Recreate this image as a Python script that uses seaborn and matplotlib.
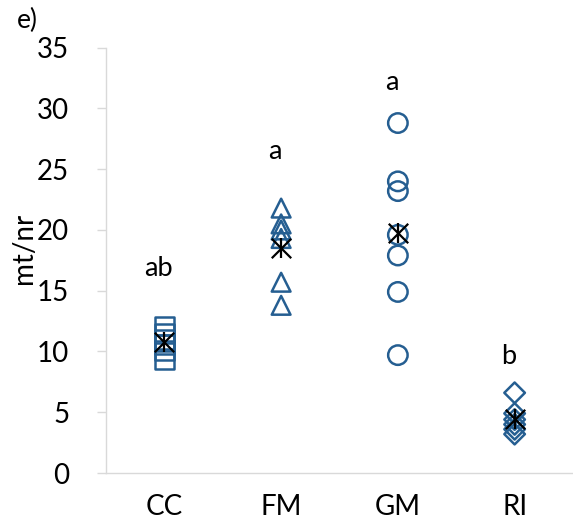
import matplotlib
matplotlib.use("Agg")
import matplotlib.pyplot as plt
import seaborn as sns
import pandas as pd

# Sampled values per site
categories = ["CC", "FM", "GM", "RI"]
cc_values = [12.1, 11.5, 11.0, 10.6, 10.1, 9.3]
fm_values = [21.8, 20.5, 20.0, 19.3, 15.7, 13.8]
gm_values = [28.8, 24.0, 23.2, 19.6, 17.9, 14.9, 9.7]
ri_values = [6.6, 4.9, 4.4, 4.0, 3.6, 3.2]
group_letters = ["ab", "a", "a", "b"]
letter_heights = [16.2, 25.8, 31.5, 9.0]

df = pd.DataFrame({
    "site": (["CC"] * len(cc_values) + ["FM"] * len(fm_values)
             + ["GM"] * len(gm_values) + ["RI"] * len(ri_values)),
    "value": cc_values + fm_values + gm_values + ri_values,
})
means = df.groupby("site", sort=False)["value"].mean().reset_index()

sns.set_theme(style="white")
plt.rcParams["font.family"] = ["Lato", "DejaVu Sans"]

blue = "#255E91"
grey = "#D9D9D9"

fig = plt.figure(figsize=(5.73, 5.23), dpi=100)
ax = fig.add_axes([106 / 573, 1 - 473 / 523, 1 - 106 / 573, (473 - 47.7) / 523])

markers = {"CC": "s", "FM": "^", "GM": "o", "RI": "D"}
sizes = {"CC": 13.5, "FM": 13.5, "GM": 14.0, "RI": 10.5}
for site in categories:
    sub = df[df["site"] == site]
    sns.scatterplot(data=sub, x="site", y="value", marker=markers[site],
                    s=sizes[site] ** 2, facecolor="none", edgecolor=blue,
                    linewidth=1.8, ax=ax, legend=False, zorder=3)

# Mean of each group drawn as an Excel-style star (x plus vertical bar)
for m in ["x", "|"]:
    sns.scatterplot(data=means, x="site", y="value", marker=m, s=14 ** 2,
                    color="black", linewidth=1.6, ax=ax, legend=False, zorder=4)

for i, (lab, h) in enumerate(zip(group_letters, letter_heights)):
    ax.text(i - 0.05, h, lab, ha="center", va="baseline", fontsize=19.5,
            color="black")

ax.set_xlim(-0.5, 3.5)
ax.set_ylim(0, 35)
ax.set_yticks(range(0, 36, 5))
ax.set_xticks(range(len(categories)))
ax.set_xticklabels(categories)
ax.set_xlabel("")
ax.set_ylabel("")

for side in ["top", "right"]:
    ax.spines[side].set_visible(False)
for side in ["left", "bottom"]:
    ax.spines[side].set_color(grey)
    ax.spines[side].set_linewidth(1.0)

ax.tick_params(axis="y", which="major", left=True, length=6.5, width=1.0,
               color=grey, labelsize=20, labelcolor="black", pad=20)
ax.tick_params(axis="x", which="major", bottom=False, labelsize=20,
               labelcolor="black", pad=9)

fig.text(24 / 573, 1 - 248 / 523, "mt/nr", rotation=90, ha="center",
         va="center", fontsize=20, color="black")
fig.text(17 / 573, 1 - 28 / 523, "e)", ha="left", va="baseline",
         fontsize=19, color="black")

fig.savefig("out.png", dpi=100)
